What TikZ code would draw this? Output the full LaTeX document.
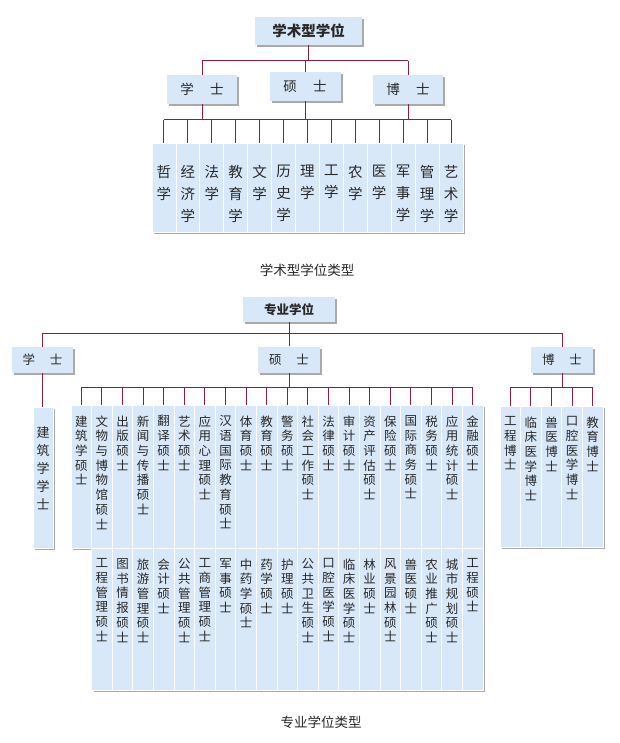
\documentclass[tikz,border=0pt]{standalone}
\usepackage{fontspec}
\setmainfont{Noto Sans CJK SC}
\XeTeXlinebreaklocale "zh"
\XeTeXlinebreakskip=0pt plus 1pt
\usetikzlibrary{shadows}
\definecolor{boxc}{RGB}{216,232,249}
\definecolor{linec}{RGB}{140,30,62}
\definecolor{shc}{RGB}{170,170,170}
\definecolor{txtc}{RGB}{40,40,40}
\begin{document}
\begin{tikzpicture}[x=1pt,y=-1pt,
  conn/.style={draw=linec,line width=1pt},
  lvl/.style={fill=boxc,inner sep=0pt,text=txtc,drop shadow={shadow xshift=2pt,shadow yshift=-2pt,fill=shc,opacity=1}},
  colbox/.style={fill=boxc,draw=white,line width=0.8pt,inner sep=0pt},
  vtext/.style={inner sep=0pt,anchor=north,align=center,text=txtc},
  bigv/.style={vtext,text width=15pt,font=\fontsize{14.5}{22}\selectfont},
  smallv/.style={vtext,text width=13pt,font=\fontsize{12.5}{14.7}\selectfont},
  captext/.style={inner sep=0pt,text=txtc,font=\fontsize{13.5}{16}\selectfont},
]
\fill[white] (0,0) rectangle (620,743);
\useasboundingbox (0,0) rectangle (620,743);

% ---------------- academic degrees ----------------
\node[lvl,minimum width=107pt,minimum height=28pt,font=\bfseries\fontsize{14.5}{16}\selectfont] (A) at (308.5,31) {学术型学位};
\node[lvl,minimum width=70pt,minimum height=29pt,font=\fontsize{13.5}{16}\selectfont] (AX) at (202,89.5) {学\hspace{1.2em}士};
\node[lvl,minimum width=71pt,minimum height=29pt,font=\fontsize{13.5}{16}\selectfont] (AS) at (305,86.5) {硕\hspace{1.2em}士};
\node[lvl,minimum width=70pt,minimum height=29pt,font=\fontsize{13.5}{16}\selectfont] (AB) at (408,89.5) {博\hspace{1.2em}士};

\fill[shc] (154,145) rectangle (465,234);
\foreach \t [count=\i] in {哲学,经济学,法学,教育学,文学,历史学,理学,工学,农学,医学,军事学,管理学,艺术学} {
  \node[colbox,minimum width=23.92pt,minimum height=89pt] (T\i) at ({152+(\i-0.5)*23.92},187.5) {};
  \node[bigv] (TT\i) at ([yshift=-22.5pt]T\i.north) {\t};
}

\coordinate (b1) at (0,61);
\coordinate (b2) at (0,120);
\draw[conn] (A.south) -- (A.south |- b1);
\draw[conn] (AX.north |- b1) -- (AB.north |- b1);
\foreach \n in {AX,AS,AB} {
  \draw[conn] (\n.north) -- (\n.north |- b1);
  \draw[conn] (\n.south) -- (\n.south |- b2);
}
\draw[conn] (T1.north |- b2) -- (T13.north |- b2);
\foreach \i in {1,...,13} \draw[conn] (T\i.north) -- (T\i.north |- b2);

\node[captext] (C1) at (307,270) {学术型学位类型};

% ---------------- professional degrees ----------------
\node[lvl,minimum width=92pt,minimum height=25pt,font=\bfseries\fontsize{12.5}{14}\selectfont] (B) at (289,309.5) {专业学位};
\node[lvl,minimum width=61pt,minimum height=26pt,font=\fontsize{12.5}{14}\selectfont] (BX) at (42.5,360) {学\hspace{1.2em}士};
\node[lvl,minimum width=62pt,minimum height=26pt,font=\fontsize{12.5}{14}\selectfont] (BS) at (289,359.5) {硕\hspace{1.2em}士};
\node[lvl,minimum width=62pt,minimum height=26pt,font=\fontsize{12.5}{14}\selectfont] (BB) at (562,360) {博\hspace{1.2em}士};

% shadows of the column groups
\fill[shc] (35,409) rectangle (55,550);
\fill[shc] (73,407) rectangle (485,550);
\fill[shc] (93.6,550) rectangle (485,692);
\fill[shc] (502,408) rectangle (605,549);

\node[colbox,minimum width=20pt,minimum height=141pt] (J) at (43,477.5) {};
\node[vtext,text width=14pt,font=\fontsize{13}{18}\selectfont] (JT) at ([yshift=-19.5pt]J.north) {建筑学学士};

\foreach \t [count=\i] in {建筑学硕士,文物与博物馆硕士,出版硕士,新闻与传播硕士,翻译硕士,艺术硕士,应用心理硕士,汉语国际教育硕士,体育硕士,教育硕士,警务硕士,社会工作硕士,法律硕士,审计硕士,资产评估硕士,保险硕士,国际商务硕士,税务硕士,应用统计硕士,金融硕士} {
  \node[colbox,minimum width=20.6pt,minimum height=143pt] (M\i) at ({71+(\i-0.5)*20.6},476.5) {};
  \node[smallv] (MT\i) at ([yshift=-10.75pt]M\i.north) {\t};
}
\foreach \t [count=\i] in {工程管理硕士,图书情报硕士,旅游管理硕士,会计硕士,公共管理硕士,工商管理硕士,军事硕士,中药学硕士,药学硕士,护理硕士,公共卫生硕士,口腔医学硕士,临床医学硕士,林业硕士,风景园林硕士,兽医硕士,农业推广硕士,城市规划硕士,工程硕士} {
  \node[colbox,minimum width=20.6pt,minimum height=142pt] (N\i) at ({91.6+(\i-0.5)*20.6},619) {};
  \node[smallv] (NT\i) at ([yshift=-10.75pt]N\i.north) {\t};
}
\foreach \t [count=\i] in {工程博士,临床医学博士,兽医博士,口腔医学博士,教育博士} {
  \node[colbox,minimum width=20.6pt,minimum height=141pt] (D\i) at ({500+(\i-0.5)*20.6},476.5) {};
  \node[smallv] (DT\i) at ([yshift=-10.75pt]D\i.north) {\t};
}

\coordinate (b3) at (0,333);
\coordinate (b4) at (0,387);
\draw[conn] (B.south) -- (B.south |- b3);
\draw[conn] (BX.north |- b3) -- (BB.north |- b3);
\foreach \n in {BX,BS,BB} \draw[conn] (\n.north) -- (\n.north |- b3);
\draw[conn] (BX.south) -- (BX.south |- J.north);
\draw[conn] (BS.south) -- (BS.south |- b4);
\draw[conn] (BB.south) -- (BB.south |- b4);
\draw[conn] (M1.north |- b4) -- (M20.north |- b4);
\foreach \i in {1,...,20} \draw[conn] (M\i.north) -- (M\i.north |- b4);
\draw[conn] (D1.north |- b4) -- (D5.north |- b4);
\foreach \i in {1,...,5} \draw[conn] (D\i.north) -- (D\i.north |- b4);

\node[captext] (C2) at (321,722) {专业学位类型};
\end{tikzpicture}
\end{document}
